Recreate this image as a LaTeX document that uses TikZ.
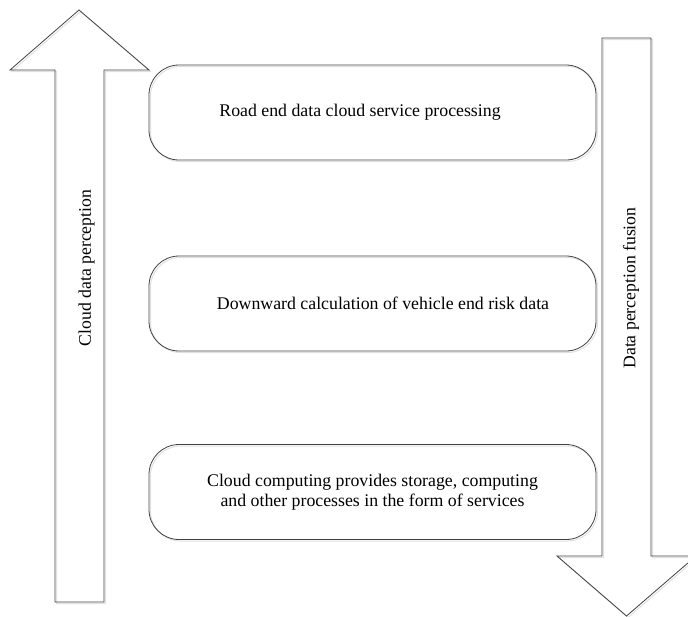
\documentclass[tikz,border=0pt]{standalone}
\usepackage{fontspec}
\setmainfont{Liberation Serif}
\begin{document}
\begin{tikzpicture}[x=1pt,y=-1pt,
  outline/.style={draw=black!75, line width=0.8pt, line join=miter},
  shade line/.style={draw=black!12, line width=1pt},
  stagebox/.style={outline, rounded corners=30pt, minimum width=447pt,
    minimum height=95pt, inner sep=0pt},
  stagetext/.style={align=center, inner sep=0pt,
    font=\fontsize{17.8}{19.5}\selectfont},
  sidelabel/.style={rotate=90, inner sep=0pt, font=\fontsize{17.7}{20}\selectfont}]
\useasboundingbox (0,0) rectangle (688,616);

% upward arrow on the left
\path[shade line, shift={(1.5pt,-1.5pt)}]
  (79,10) -- (149,70) -- (104,70) -- (104,602) -- (55,602) -- (55,70) -- (10,70) -- cycle;
\draw[outline]
  (79,10) -- (149,70) -- (104,70) -- (104,602) -- (55,602) -- (55,70) -- (10,70) -- cycle;
\node[sidelabel] (up) at (86.5,268) {Cloud data perception};

% downward arrow on the right
\path[shade line, shift={(1.5pt,-1.5pt)}]
  (602,38) -- (651,38) -- (651,556) -- (696,556) -- (626.5,616) -- (557,556) -- (602,556) -- cycle;
\draw[outline]
  (602,38) -- (651,38) -- (651,556) -- (696,556) -- (626.5,616) -- (557,556) -- (602,556) -- cycle;
\node[sidelabel] (down) at (631,288) {Data perception fusion};

% three processing stages
\foreach \yc in {112.5,303.5,492}
  \path[shade line, rounded corners=30pt, shift={(1.5pt,-1.5pt)}]
    (149,\yc-47.5) rectangle (596,\yc+47.5);
\node[stagebox] (s1) at (372.5,112.5) {};
\node[stagebox] (s2) at (372.5,303.5) {};
\node[stagebox] (s3) at (372.5,492) {};
\node[stagetext] (t1) at ([xshift=-12.5pt]s1.center) {Road end data cloud service processing};
\node[stagetext] (t2) at ([xshift=10.5pt]s2.center) {Downward calculation of vehicle end risk data};
\node[stagetext] (t3) at ([yshift=0pt]s3.center) {Cloud computing provides storage, computing\\and other processes in the form of services};
\end{tikzpicture}
\end{document}
